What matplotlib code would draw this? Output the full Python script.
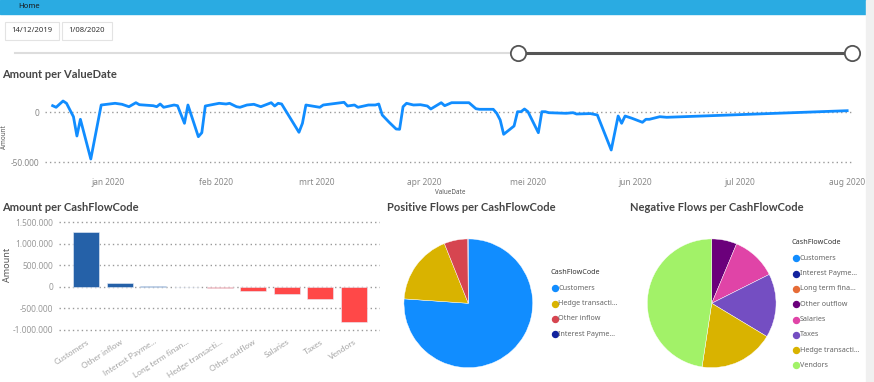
import numpy as np
import matplotlib
matplotlib.use("Agg")
import matplotlib.pyplot as plt
import matplotlib.dates as mdates
from matplotlib.patches import Rectangle
from matplotlib.lines import Line2D

### Data
# Amount per ValueDate (days from 1 jan 2020, amount)
day_offsets = [-16, -15, -13, -12, -10, -9, -8, -5, -2, 2, 4, 6, 8, 9, 13, 14, 15, 16, 19, 20,
               22, 23, 26, 27, 28, 32, 34, 35, 37, 38, 40, 42, 44, 47, 48, 49, 50, 55, 56, 57,
               61, 62, 68, 69, 71, 72, 75, 77, 78, 79, 81, 83, 84, 85, 86, 88, 90, 92, 93, 96,
               97, 99, 104, 106, 107, 111, 112, 113, 114, 117, 118, 119, 120, 121, 124, 125, 126, 127, 132, 134,
               135, 139, 141, 145, 147, 148, 149, 151, 154, 155, 156, 159, 161, 213]
amounts = [6300, 4700, 11000, 8700, -4700, -24000, -7300, -47000, 7000, 8700, 7700, 5300, 9300, 7300, 6300, 5300, 8000, 4700, 7000, 6300,
           -11300, 7000, -24700, -20700, 6000, 8700, 8000, 8700, 5300, 4700, 7000, 7700, 5300, 9300, 6000, 8700, 8000, -20300, -11300, 7000,
           4700, 7000, 9700, 6000, 7000, 4700, 7000, 7000, 8000, -3000, -10300, -17000, -17300, 5300, 8700, 7000, 7300, 6000, 3000, 9300,
           6300, 9300, 9300, 3300, 2700, 2700, -1300, -8000, -22300, -14000, 300, 300, 3000, 300, -20700, 300, 300, -700, -1300, -700,
           -2000, -1600, -3000, -38000, -4000, -11300, -4000, -6300, -10300, -7300, -7300, -4700, -5300, 1300]
month_ticks = ["2020-01-01", "2020-02-01", "2020-03-01", "2020-04-01", "2020-05-01", "2020-06-01", "2020-07-01", "2020-08-01"]
month_labels = ["jan 2020", "feb 2020", "mrt 2020", "apr 2020", "mei 2020", "jun 2020", "jul 2020", "aug 2020"]

# Amount per CashFlowCode
bar_codes = ["Customers", "Other inflow", "Interest Payme...", "Long term finan...", "Hedge transacti...",
             "Other outflow", "Salaries", "Taxes", "Vendors"]
bar_amounts = [1280000, 95000, 20000, -15000, -21000, -110000, -180000, -275000, -814000]

# Positive / negative flows
pos_codes = ["Customers", "Hedge transacti...", "Other inflow", "Interest Payme..."]
pos_amounts = [1280000, 300000, 100000, 2000]
pos_colors = ["#118DFF", "#D9B300", "#D64550", "#12239E"]

neg_codes = ["Customers", "Interest Payme...", "Long term fina...", "Other outflow", "Salaries",
             "Taxes", "Hedge transacti...", "Vendors"]
neg_amounts = [0, 0, 0, 108000, 193000, 274000, 321000, 814000]
neg_colors = ["#118DFF", "#12239E", "#E66C37", "#6B007B", "#E044A7", "#744EC2", "#D9B300", "#A2F268"]

### Helpers (pixel layout -> figure fractions)
W, H = 874, 382
def box(l, t, r, b):
    return [l / W, 1 - b / H, (r - l) / W, (b - t) / H]
def fx(px):
    return px / W
def fy(py):
    return 1 - py / H

TITLE_FONT = "Lato"
TICK_FONT = "Noto Sans"
grid_style = dict(color="#9a9a9a", linestyle=(0, (1, 2.2)), linewidth=1.0)

fig = plt.figure(figsize=(8.74, 3.82), dpi=100)
fig.patch.set_facecolor("white")

# Top ribbon
fig.patches.append(Rectangle((0, fy(14)), fx(866), 14 / H, transform=fig.transFigure, color="#2AABE2", zorder=0))
fig.patches.append(Rectangle((fx(866), 0), fx(8), 1, transform=fig.transFigure, color="#F0F0F0", zorder=0))
fig.text(fx(18), fy(7), "Home", fontsize=5.5, color="#1a1a1a", va="center", family=TICK_FONT)

# Date slicer
for (l, r, label) in [(5, 59, "14/12/2019"), (62, 112, "1/08/2020")]:
    fig.patches.append(Rectangle((fx(l), fy(40)), fx(r - l), 18 / H, transform=fig.transFigure,
                                 facecolor="white", edgecolor="#E3E3E3", linewidth=0.8))
    fig.text(fx((l + r) / 2), fy(31), label, fontsize=5.5, color="#333333", ha="center", va="center", family=TICK_FONT)
fig.add_artist(Line2D([fx(15), fx(518)], [fy(53), fy(53)], color="#DDDDDD", linewidth=1.5))
fig.add_artist(Line2D([fx(518), fx(852)], [fy(53), fy(53)], color="#555555", linewidth=2.2))
for cx in [518, 852]:
    fig.add_artist(Line2D([fx(cx)], [fy(53)], marker="o", markersize=11, markerfacecolor="white",
                          markeredgecolor="#555555", markeredgewidth=1.3, linestyle=""))

### Line chart
fig.text(fx(2), fy(75), "Amount per ValueDate", fontsize=8, color="#454545", va="center",
         family=TITLE_FONT, weight="bold")
ax1 = fig.add_axes(box(45, 90, 852, 170))
jan1 = mdates.date2num(np.datetime64("2020-01-01"))
dates = jan1 + np.array(day_offsets, dtype=float)
ax1.plot(dates, amounts, color="#118DFF", linewidth=2.0, solid_joinstyle="round", zorder=3)
for v in [0, -50000]:
    ax1.axhline(v, **grid_style, zorder=1)
ax1.set_xlim(jan1 - 18.2, jan1 + 214.4)
ax1.set_ylim(-58000, 22000)
ax1.set_yticks([0, -50000])
ax1.set_yticklabels(["0", "-50.000"])
ax1.set_xticks(mdates.date2num(np.array(month_ticks, dtype="datetime64[D]")))
ax1.set_xticklabels(month_labels)
ax1.tick_params(length=0, labelsize=6, labelcolor="#888888", pad=6)
ax1.tick_params(axis="y", pad=4)
for lab in ax1.get_xticklabels() + ax1.get_yticklabels():
    lab.set_family(TICK_FONT)
for s in ax1.spines.values():
    s.set_visible(False)
fig.text(fx(450), fy(192), "ValueDate", fontsize=4.5, color="#555555", ha="center", va="center", family=TICK_FONT)
fig.text(fx(5), fy(137), "Amount", fontsize=4.5, color="#555555", ha="center", va="center", rotation=90, family=TICK_FONT)

### Bar chart
fig.text(fx(2), fy(207), "Amount per CashFlowCode", fontsize=8, color="#454545", va="center",
         family=TITLE_FONT, weight="bold")
ax2 = fig.add_axes(box(59, 218, 380, 334))
x = np.arange(len(bar_codes))
colors = ["#2561A8" if v >= 0 else "#FF4848" for v in bar_amounts]
ax2.bar(x, bar_amounts, width=0.78, color=colors, edgecolor="#E8EEF8", linewidth=0.4, zorder=3)
for v in [1500000, 1000000, 500000, 0, -500000, -1000000]:
    ax2.axhline(v, **grid_style, zorder=1)
ax2.set_xlim(-0.82, 8.79)
ax2.set_ylim(-1100000, 1600000)
ax2.set_yticks([1500000, 1000000, 500000, 0, -500000, -1000000])
ax2.set_yticklabels(["1.500.000", "1.000.000", "500.000", "0", "-500.000", "-1.000.000"])
ax2.set_xticks(x)
ax2.set_xticklabels(bar_codes, rotation=33, ha="right", rotation_mode="anchor")
ax2.tick_params(length=0, labelsize=6, labelcolor="#999999", pad=4)
ax2.tick_params(axis="x", labelsize=6, labelcolor="#A5A5A5", pad=3)
for lab in ax2.get_xticklabels():
    lab.set_family(TITLE_FONT)
for lab in ax2.get_yticklabels():
    lab.set_family(TICK_FONT)
for s in ax2.spines.values():
    s.set_visible(False)
fig.text(fx(8), fy(265), "Amount", fontsize=6.5, color="#555555", ha="center", va="center", rotation=90, family=TICK_FONT)

### Pies
def draw_pie(cx, cy, r, values, cols, title, tx, leg_x, leg_y, codes, step):
    fig.text(fx(tx), fy(207), title, fontsize=8, color="#454545", va="center", family=TITLE_FONT, weight="bold")
    ax = fig.add_axes(box(cx - r, cy - r, cx + r, cy + r))
    ax.pie(values, colors=cols, startangle=90, counterclock=False, radius=1,
           wedgeprops=dict(linewidth=0.3, edgecolor="white"))
    ax.set_xlim(-1.01, 1.01)
    ax.set_ylim(-1.01, 1.01)
    ax.set_aspect("equal")
    ax.axis("off")
    # Legend
    fig.text(fx(leg_x - 4), fy(leg_y), "CashFlowCode", fontsize=5.2, color="#333333", va="center",
             family=TICK_FONT, weight="bold")
    for i, (code, c) in enumerate(zip(codes, cols)):
        yy = leg_y + step * (i + 1)
        fig.add_artist(Line2D([fx(leg_x)], [fy(yy)], marker="o", markersize=4.3, color=c, linestyle=""))
        fig.text(fx(leg_x + 4), fy(yy), code, fontsize=5.2, color="#666666", va="center", family=TICK_FONT)

draw_pie(468.3, 303.3, 65, pos_amounts, pos_colors, "Positive Flows per CashFlowCode", 387,
         554.5, 273, pos_codes, 15.3)
draw_pie(711.7, 303.3, 65, neg_amounts, neg_colors, "Negative Flows per CashFlowCode", 630,
         795.5, 243, neg_codes, 15.3)

plt.savefig("out.png", dpi=100)
